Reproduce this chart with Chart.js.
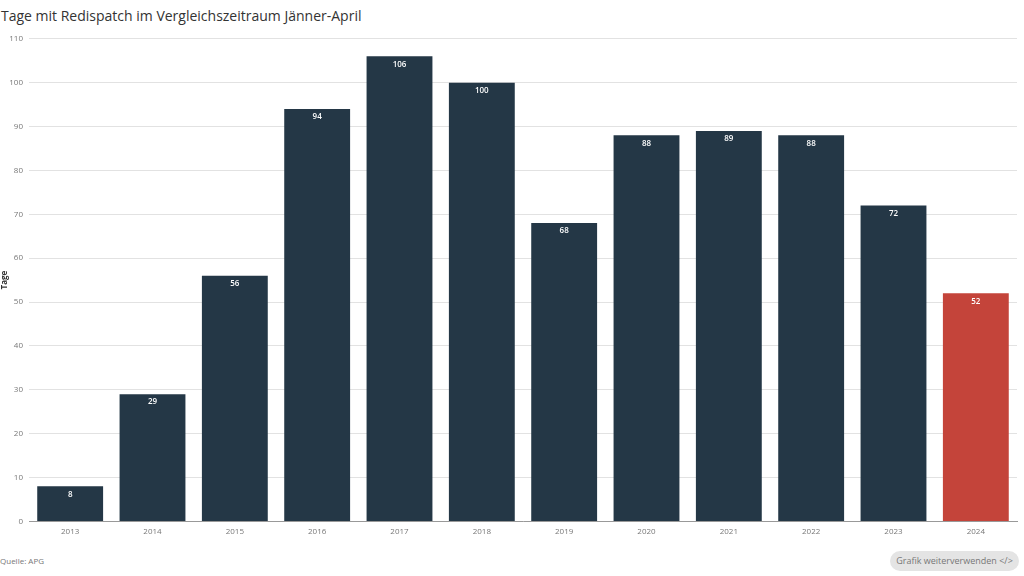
<!DOCTYPE html>
<html>
<head>
<meta charset="utf-8">
<script src="https://cdn.jsdelivr.net/npm/chart.js@4/dist/chart.umd.min.js"></script>
<style>
  body { margin: 0; width: 1024px; height: 576px; background: #fff; font-family: "Open Sans", sans-serif; position: relative; overflow: hidden; }
  .title { position: absolute; left: 1px; top: 6px; font-size: 14px; color: #333; }
  .wrap { position: absolute; left: 0; top: 28px; width: 1024px; height: 507px; }
  .source { position: absolute; left: 0; top: 555px; font-size: 8px; color: #777; }
  .btn { position: absolute; left: 890px; top: 551px; width: 129px; height: 20px; border-radius: 10px; background: #e4e4e4; color: #777; font-size: 9px; line-height: 20px; text-align: center; }
</style>
</head>
<body>
<div class="title">Tage mit Redispatch im Vergleichszeitraum Jänner-April</div>
<div class="wrap"><canvas id="myChart"></canvas></div>
<div class="source">Quelle: APG</div>
<div class="btn">Grafik weiterverwenden &lt;/&gt;</div>
<script>
const years = ["2013", "2014", "2015", "2016", "2017", "2018", "2019", "2020", "2021", "2022", "2023", "2024"];
const days = [8, 29, 56, 94, 106, 100, 68, 88, 89, 88, 72, 52];
const barColors = ["#243746", "#243746", "#243746", "#243746", "#243746", "#243746", "#243746", "#243746", "#243746", "#243746", "#243746", "#c4443a"];

// white value labels inside the bar top
const barLabels = {
  id: "barLabels",
  afterDatasetsDraw(chart) {
    const ctx = chart.ctx;
    const meta = chart.getDatasetMeta(0);
    ctx.save();
    ctx.fillStyle = "#fff";
    ctx.font = "600 8px 'Open Sans'";
    ctx.textAlign = "center";
    ctx.textBaseline = "middle";
    meta.data.forEach((bar, i) => {
      ctx.fillText(days[i], bar.x, bar.y + 8);
    });
    ctx.restore();
  }
};

new Chart("myChart", {
  type: "bar",
  data: {
    labels: years,
    datasets: [{
      backgroundColor: barColors,
      data: days,
      barPercentage: 0.8,
      categoryPercentage: 1
    }]
  },
  options: {
    responsive: true,
    maintainAspectRatio: false,
    animation: false,
    layout: { padding: { top: 4, right: 7 } },
    plugins: { legend: { display: false }, tooltip: { enabled: false } },
    scales: {
      x: {
        grid: { display: false },
        border: { color: "#999" },
        ticks: { color: "#777", font: { size: 8, family: "Open Sans" }, padding: -2 }
      },
      y: {
        min: 0,
        max: 110,
        afterFit: function(scale) { scale.width = 29; },
        grid: { color: "#e2e2e2", drawTicks: false },
        border: { display: false },
        ticks: { stepSize: 10, color: "#777", font: { size: 8, family: "Open Sans" }, padding: 6 },
        title: { display: true, text: "Tage", color: "#333", font: { size: 8, weight: "bold", family: "Open Sans" }, padding: 0 }
      }
    }
  },
  plugins: [barLabels]
});
</script>
</body>
</html>
